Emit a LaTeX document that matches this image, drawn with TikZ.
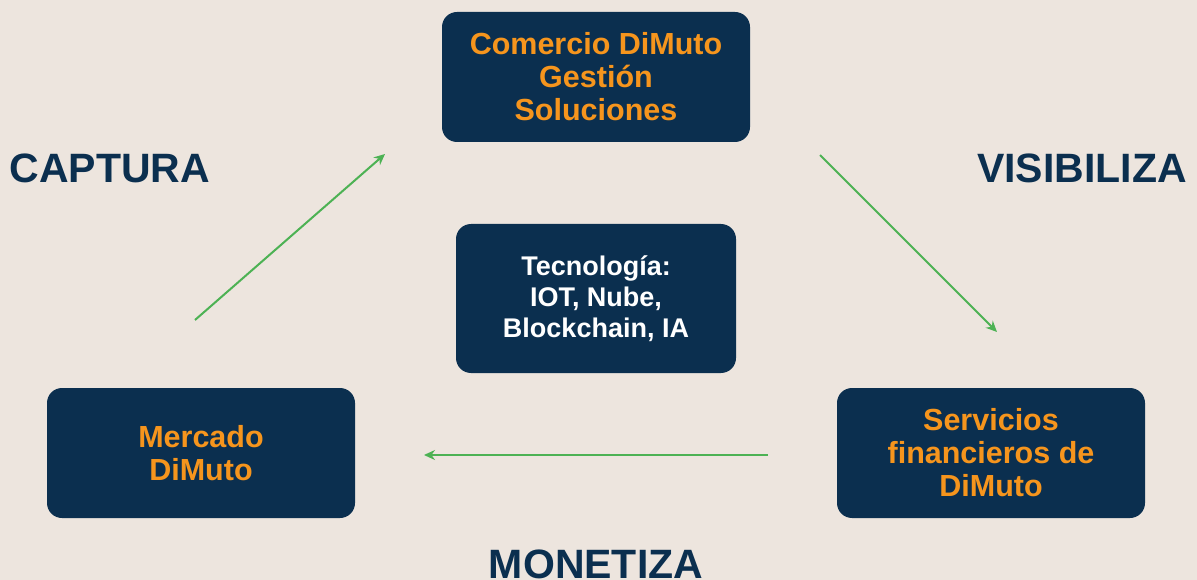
\documentclass[tikz,border=0pt]{standalone}
\usepackage{fontspec}
\setmainfont{Liberation Sans}
\usepackage{tikz}
\usetikzlibrary{arrows.meta}

\definecolor{bgbeige}{HTML}{EDE5DE}
\definecolor{navy}{HTML}{0B2F4F}
\definecolor{dmorange}{HTML}{F6951D}
\definecolor{dmgreen}{HTML}{4DB254}

\tikzset{
  box/.style={fill=navy, rounded corners=15pt, minimum width=308pt, minimum height=130pt, inner sep=0pt},
  boxtext/.style={text=dmorange, font=\fontsize{30.5}{33}\selectfont\bfseries, align=center},
  techtext/.style={text=white, font=\fontsize{27}{31}\selectfont\bfseries, align=center},
  verb/.style={text=navy, font=\fontsize{41}{45}\selectfont\bfseries, inner sep=0pt},
  flow/.style={draw=dmgreen, line width=2pt, -{Stealth[length=11pt,width=10pt]}}
}

\begin{document}
\begin{tikzpicture}[x=1pt,y=-1pt]
    \fill[bgbeige] (0,0) rectangle (1197,580);
    \useasboundingbox (0,0) rectangle (1197,580);

    \node[box] (top) at (596,77) {};
    \node[boxtext] at (top.center) {Comercio DiMuto\\Gestión\\Soluciones};
    \node[box, minimum width=280pt, minimum height=149pt] (tech) at (596,298.5) {};
    \node[techtext] at (tech.center) {Tecnología:\\IOT, Nube,\\Blockchain, IA};
    \node[box] (left) at (201,453) {};
    \node[boxtext] at (left.center) {Mercado\\DiMuto};
    \node[box] (right) at (991,453) {};
    \node[boxtext] at (right.center) {Servicios\\financieros de\\DiMuto};

    \node[verb] (captura) at (110,168) {CAPTURA};
    \node[verb] (visibiliza) at (1082,168) {VISIBILIZA};
    \node[verb, anchor=base] (monetiza) at (596,578) {MONETIZA};

    \coordinate (c1s) at (195,320);
    \coordinate (c1e) at (385,154);
    \coordinate (c2s) at (820,155);
    \coordinate (c2e) at (997,332);
    \coordinate (c3s) at (768,455);
    \coordinate (c3e) at (424,455);
    \draw[flow] (c1s) to (c1e);
    \draw[flow] (c2s) to (c2e);
    \draw[flow] (c3s) to (c3e);
  \end{tikzpicture}
\end{document}
